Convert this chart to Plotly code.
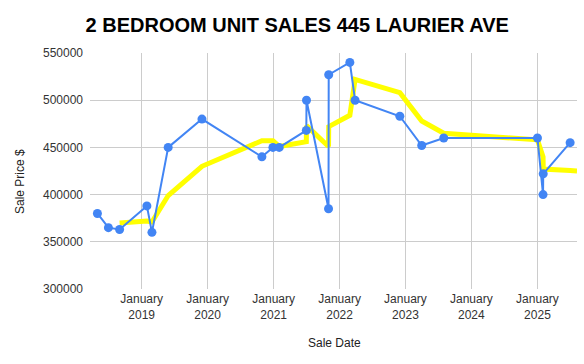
import plotly.graph_objects as go

# Sales
sale_dates = [
    "2018-05-01", "2018-07-01", "2018-09-01", "2019-01-30", "2019-02-27",
    "2019-05-28", "2019-12-01", "2020-10-28", "2020-12-28", "2021-02-01",
    "2021-07-01", "2021-07-02", "2021-11-01", "2021-11-02", "2022-02-27",
    "2022-03-28", "2022-12-01", "2023-04-01", "2023-08-01", "2025-01-01",
    "2025-02-01", "2025-02-02", "2025-07-01",
]
sale_prices = [
    380000, 365000, 363000, 388000, 360000,
    450000, 480000, 440000, 450000, 450000,
    468000, 500000, 385000, 527000, 540000,
    500000, 483000, 452000, 460000, 460000,
    400000, 422000, 455000,
]

# Trend (moving average) line (runs to the right edge)
trend_dates = sale_dates[2:] + ["2025-08-08"]
trend_values = [
    370000, 372000, 371000, 399000, 430000, 457000, 457000, 451000,
    456000, 473000, 451000, 472000, 484000, 522000, 508000, 478000,
    465000, 458000, 440000, 427000, 425500, 425000,
]

tick_vals = ["2019-01-01", "2020-01-01", "2021-01-01", "2022-01-01",
             "2023-01-01", "2024-01-01", "2025-01-01"]
tick_text = ["January<br>2019", "January<br>2020", "January<br>2021",
             "January<br>2022", "January<br>2023", "January<br>2024",
             "January<br>2025"]
y_ticks = [300000, 350000, 400000, 450000, 500000, 550000]

FONT = "Arial, 'Liberation Sans', sans-serif"

fig = go.Figure()
fig.add_trace(go.Scatter(
    x=trend_dates, y=trend_values, mode="lines",
    line=dict(color="#FFFF00", width=5), hoverinfo="skip", showlegend=False,
    cliponaxis=True,
))
fig.add_trace(go.Scatter(
    x=sale_dates, y=sale_prices, mode="lines+markers",
    line=dict(color="#4285F4", width=2),
    marker=dict(color="#4285F4", size=9),
    showlegend=False,
))

fig.update_layout(
    width=584, height=364,
    margin=dict(l=90, r=7, t=53, b=75),
    paper_bgcolor="white", plot_bgcolor="white",
    font=dict(family=FONT, size=12, color="#222222"),
    title=dict(text="<b>2 BEDROOM UNIT SALES 445 LAURIER AVE</b>",
               x=0.509, xanchor="center", xref="container",
               y=1 - 25 / 364, yanchor="middle", yref="container",
               font=dict(family=FONT, size=20, color="#000000")),
    xaxis=dict(
        type="date", range=["2018-03-21", "2025-08-08"],
        tickvals=tick_vals, ticktext=tick_text,
        showgrid=True, gridcolor="#cccccc", gridwidth=1,
        zeroline=False, showline=False, ticks="",
        ticklabelstandoff=1,
        tickfont=dict(size=12, color="#333333"),
    ),
    yaxis=dict(
        range=[300000, 550000], tickvals=y_ticks,
        showgrid=True, gridcolor="#cccccc", gridwidth=1,
        zeroline=False, showline=False, ticks="",
        ticklabelstandoff=6,
        tickfont=dict(size=12, color="#333333"),
        tickformat="d",
    ),
    annotations=[
        dict(text="Sale Price $", xref="paper", yref="paper",
             x=(20 - 90) / 487, y=(289 - 182) / 236, textangle=-90,
             showarrow=False, xanchor="center", yanchor="middle",
             font=dict(size=12, color="#222222")),
        dict(text="Sale Date", xref="paper", yref="paper",
             x=(334 - 90) / 487, y=(289 - 343) / 236,
             showarrow=False, xanchor="center", yanchor="middle",
             font=dict(size=12, color="#222222")),
    ],
)

fig.write_html(
    "out.html",
    config={"displayModeBar": False},
    post_script="document.body.style.margin='0px';",
)
